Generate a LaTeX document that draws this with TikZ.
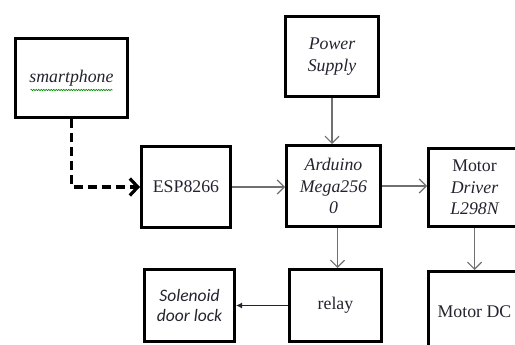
\documentclass[tikz,border=0pt]{standalone}
\usepackage{fontspec}
\setmainfont{Liberation Serif}
\newfontfamily\solfont{Carlito}
\usetikzlibrary{arrows.meta,decorations.pathmorphing,positioning,calc}
\tikzset{every picture/.style={line width=0.75pt}}
\definecolor{linkgray}{HTML}{707070}
\definecolor{inkdark}{HTML}{23232F}

\begin{document}
\begin{tikzpicture}[x=1pt,y=-1pt,
    block/.style={draw,line width=2.6pt,align=center,text=inkdark,
        font=\fontsize{17.8}{21.5}\selectfont},
    link/.style={draw=linkgray,line width=1.3pt,
        -{Straight Barb[length=7pt,width=14pt,line width=1.2pt]}}]
    \useasboundingbox (0,0) rectangle (515,345);
    \clip (0,0) rectangle (515,345);

    % Blocks
    \node[block,minimum width=112.4pt,minimum height=79.4pt] (smart) at (71.5,78) {\itshape smartphone};
    \node[block,minimum width=93.4pt,minimum height=80.4pt] (power) at (332,56.5) {\itshape Power\\\itshape Supply};
    \node[block,minimum width=89.4pt,minimum height=81.4pt] (esp) at (186,187) {ESP8266};
    \node[block,minimum width=94.4pt,minimum height=81.4pt] (ard) at (333.5,186) {\itshape Arduino\\\itshape Mega256\\\itshape 0};
    \node[block,minimum width=92.4pt,minimum height=78.4pt] (drv) at (474.5,187.5) {Motor\\\itshape Driver\\\itshape L298N};
    \node[block,minimum width=90.4pt,minimum height=72.4pt,font=\solfont\fontsize{17.5}{20.5}\selectfont] (sol) at (189.5,305.5) {\itshape Solenoid\\\itshape door lock};
    \node[block,minimum width=92.4pt,minimum height=72.4pt] (relay) at (335.5,305.5) {relay};
    \node[block,minimum width=92.4pt,minimum height=81.4pt] (mdc) at (474.5,312) {Motor DC};

    % Spell-check underline
    \draw[green!55!black,line width=0.6pt,decorate,decoration={snake,amplitude=0.7pt,segment length=2.5pt}]
        ($(smart.center)+(-41,12)$) -- ($(smart.center)+(41,12)$);

    % Wireless link
    \draw[line width=3.5pt,dash pattern=on 9pt off 5pt,
        -{Straight Barb[length=8pt,width=17pt,line width=3.2pt]}] (smart.south) |- (esp.west);

    % Wired links
    \draw[link] (power.south) -- (power.south |- ard.north);
    \draw[link] (esp.east) -- (esp.east -| ard.west);
    \draw[link] (ard.east) -- (ard.east -| drv.west);
    \draw[link] ([xshift=4pt]ard.south) -- ([xshift=4pt]ard.south |- relay.north);
    \draw[link] (drv.south) -- (mdc.north);
    \draw[line width=1.2pt,draw=inkdark,-{Latex[length=6pt,width=6pt]}] (relay.west) -- (sol.east);
\end{tikzpicture}
\end{document}
